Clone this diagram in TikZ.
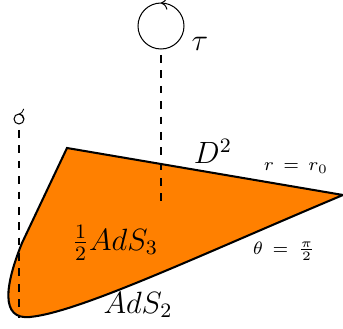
\documentclass[tikz,border=0pt]{standalone}
\usepackage{amsmath, amssymb}
\usepackage{xcolor}
\usepackage{tikz}
\usetikzlibrary{
  arrows.meta,
  decorations.markings
}

\begin{document}
\begin{tikzpicture}[x=0.39pt, y=0.39pt]
  \useasboundingbox (0,0) rectangle (343,329);

  % 区域 (orange)
  \draw[black, thick, fill=orange]
    (67,181) -- (343,134)
    .. controls (200,74) and (80,17) .. (30,12)
    .. controls (0,9) and (5,44) .. (22,86) -- cycle;

  % tau 圆
  \coordinate (bigloop) at (161,303);
  \draw[thin,
    decoration={markings, mark=at position 0.25 with {\arrow{>}}},
    postaction={decorate}]
    (bigloop) circle (23);
  \node[font=\large] (tau) at (200,285) {$\tau$};
  \coordinate (tautop) at (161,274);
  \coordinate (taubot) at (161,124);
  \draw[dashed, thin] (tautop) -- (taubot);

  % 小圆
  \coordinate (smallloop) at (19,210);
  \draw[thin,
    decoration={markings, mark=at position 0.25 with {\arrow[scale=0.8]{>}}},
    postaction={decorate}]
    (smallloop) circle (5);
  \coordinate (smalltop) at (19,199);
  \coordinate (smallbot) at (19,11);
  \draw[dashed, thin] (smalltop) -- (smallbot);

  % 标注
  \node[font=\large] (disk) at (213,178) {$D^2$};
  \node[font=\scriptsize] (rbound) at (296,161) {$r\,=\,r_0$};
  \node[font=\scriptsize] (thbound) at (284,78) {$\theta\,=\,\frac{\pi}{2}$};
  \node[font=\large] (ads3) at (115,86) {$\frac12 AdS_3$};
  \node[font=\large] (ads2) at (138,24) {$AdS_2$};
\end{tikzpicture}
\end{document}
